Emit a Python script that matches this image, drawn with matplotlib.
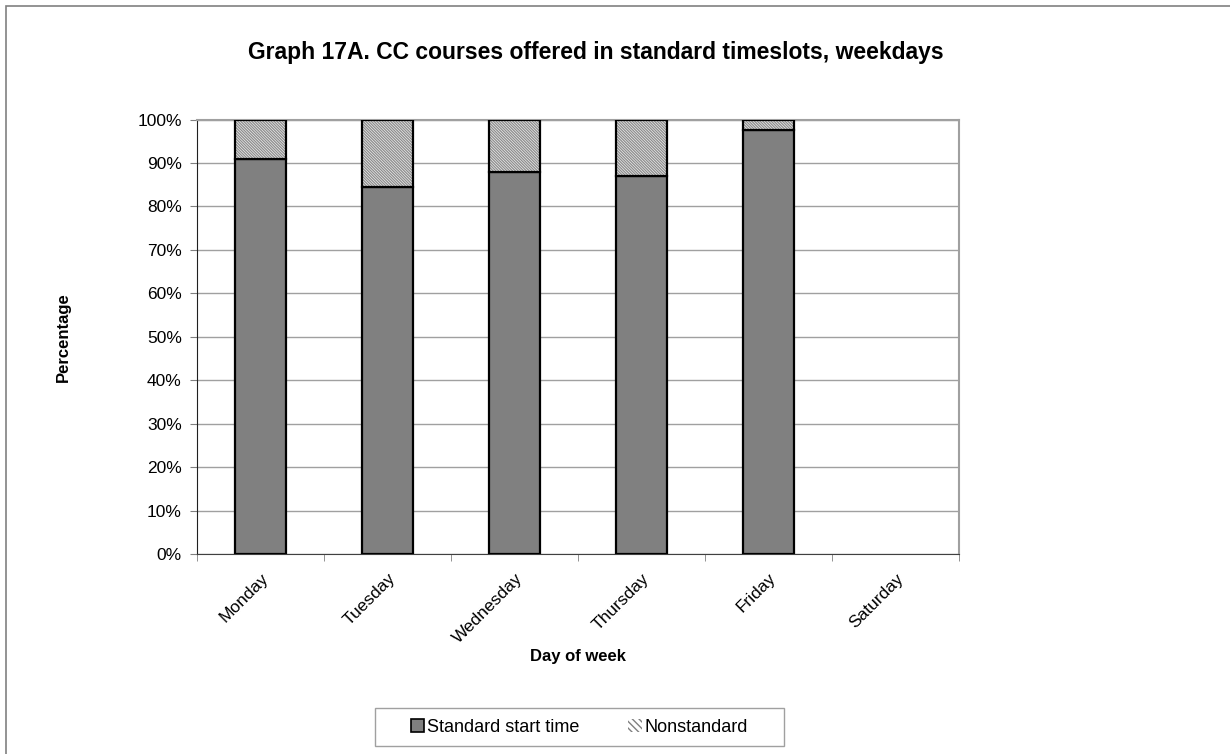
import numpy as np
import matplotlib
matplotlib.use("Agg")
import matplotlib.pyplot as plt
from matplotlib.patches import Rectangle

days = ["Monday", "Tuesday", "Wednesday", "Thursday", "Friday", "Saturday"]
standard = [91.0, 84.4, 88.0, 87.1, 97.5, 0.0]
nonstandard = [9.0, 15.6, 12.0, 12.9, 2.5, 0.0]
series_names = ["Standard start time", "Nonstandard"]

plt.rcParams['font.family'] = ['Liberation Sans', 'DejaVu Sans']
plt.rcParams['hatch.linewidth'] = 1.0

fig = plt.figure(figsize=(12.3, 7.54), dpi=100)
ax = fig.add_axes([0.1602, 0.2653, 0.6195, 0.5762])

x = np.arange(len(days)) + 0.5
std = np.array(standard)
non = np.array(nonstandard)
has = (std + non) > 0   # Saturday has no courses, draw nothing there

ax.bar(x[has], std[has], width=0.4, color='#808080', edgecolor='black', linewidth=1.6,
       zorder=3)
# hatch takes the edge colour, so fill with grey hatch first and outline in black after
ax.bar(x[has], non[has], width=0.4, bottom=std[has], color='white',
       edgecolor='#909090', hatch='\\' * 12, linewidth=0, zorder=3)
ax.bar(x[has], non[has], width=0.4, bottom=std[has], fill=False, edgecolor='black',
       linewidth=1.6, zorder=4)

ax.set_xlim(0, len(days))
ax.set_ylim(0, 100)
ax.set_yticks(np.arange(0, 101, 10))
ax.set_yticklabels([str(v) + '%' for v in range(0, 101, 10)], fontsize=12.5)
ax.yaxis.grid(True, color='#a0a0a0', linewidth=1)
ax.set_axisbelow(True)

ax.set_xticks(x)
ax.set_xticklabels(days, rotation=45, ha='right', va='top', rotation_mode='anchor', fontsize=12.5)
ax.tick_params(axis='x', length=0, pad=12)
ax.set_xticks(np.arange(0, len(days) + 1), minor=True)
ax.tick_params(axis='x', which='minor', length=5, color='#808080')
ax.tick_params(axis='y', length=5, color='#808080', pad=6)

for s in ['top', 'right']:
    ax.spines[s].set_color('#a0a0a0')
    ax.spines[s].set_linewidth(1.5)
ax.spines['left'].set_color('#202020')
ax.spines['bottom'].set_color('#404040')

ax.set_ylabel('Percentage', fontsize=12, fontweight='bold', labelpad=48)
ax.set_xlabel('Day of week', fontsize=12, fontweight='bold', labelpad=2)
fig.text(0.484, 0.931, 'Graph 17A. CC courses offered in standard timeslots, weekdays',
         ha='center', va='center', fontsize=16.5, fontweight='bold')

# legend: box drawn by hand since it is much wider than its content
fig.patches.append(Rectangle((375 / 1230, 8 / 754), 409 / 1230, 38 / 754, transform=fig.transFigure,
                             fill=False, edgecolor='#a0a0a0', linewidth=1))
h1 = Rectangle((0, 0), 1, 1, facecolor='#808080', edgecolor='black', linewidth=1.2)
h2 = Rectangle((0, 0), 1, 1, facecolor='white', edgecolor='#808080', hatch='\\' * 5, linewidth=0)
leg = ax.legend([h1, h2], series_names, loc='center', bbox_to_anchor=(0.4711, 0.0358),
                bbox_transform=fig.transFigure, ncol=2, fontsize=13, frameon=False,
                handlelength=0.75, handleheight=0.75, handletextpad=0.15, columnspacing=2.7,
                borderaxespad=0)

fig.patches.append(Rectangle((6 / 1230, -0.01), 1.0, 1 - 6 / 754 + 0.01, transform=fig.transFigure,
                             fill=False, edgecolor='#808080', linewidth=1.2))

fig.savefig('out.png', dpi=100)
